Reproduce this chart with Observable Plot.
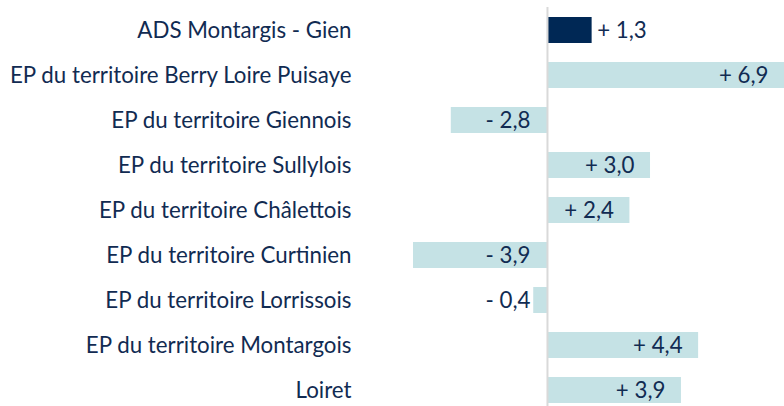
<!DOCTYPE html>
<html><head><meta charset="utf-8">
<script src="https://cdn.jsdelivr.net/npm/d3@7"></script>
<script src="https://cdn.jsdelivr.net/npm/@observablehq/plot@0.6"></script>
<style>body{margin:0;background:#fff}</style>
</head><body><div id="chart"></div>
<script>
const categories = [
  "ADS Montargis - Gien",
  "EP du territoire Berry Loire Puisaye",
  "EP du territoire Giennois",
  "EP du territoire Sullylois",
  "EP du territoire Châlettois",
  "EP du territoire Curtinien",
  "EP du territoire Lorrissois",
  "EP du territoire Montargois",
  "Loiret"
];
const values = [1.3, 6.9, -2.8, 3.0, 2.4, -3.9, -0.4, 4.4, 3.9];
const labels = ["+ 1,3", "+ 6,9", "- 2,8", "+ 3,0", "+ 2,4", "- 3,9", "- 0,4", "+ 4,4", "+ 3,9"];

const data = categories.map((c, i) => ({cat: c, v: values[i], label: labels[i], highlight: i === 0}));
const navy = "#002855";
const light = "#c5e2e5";
const textColor = "#112b52";
const font = "Lato, 'Open Sans', sans-serif";
const fs = 22.3;

const chart = Plot.plot({
  width: 784,
  height: 406,
  marginLeft: 413,
  marginRight: 0,
  marginTop: 7,
  marginBottom: 0,
  style: {fontFamily: font, fontSize: fs + "px", color: textColor, background: "#fff"},
  x: {domain: [-3.9, 6.9], axis: null},
  y: {domain: categories, range: [-1.9, 422], padding: 0.42, label: null},
  marks: [
    Plot.barX(data, {x: "v", y: "cat", fill: d => d.highlight ? navy : light}),
    Plot.ruleX([0], {stroke: "#d9d9d9", strokeWidth: 2}),
    Plot.axisY({tickSize: 0, tickPadding: 62, fontSize: fs, label: null, fill: textColor}),
    Plot.text(data.filter(d => d.highlight), {x: "v", y: "cat", text: "label", textAnchor: "start", dx: 5, fill: textColor, fontSize: fs}),
    Plot.text(data.filter(d => !d.highlight && d.v > 0), {x: "v", y: "cat", text: "label", textAnchor: "end", dx: -16, fill: textColor, fontSize: fs}),
    Plot.text(data.filter(d => d.v < 0), {x: () => 0, y: "cat", text: "label", textAnchor: "end", dx: -17, fill: textColor, fontSize: fs})
  ]
});
document.getElementById("chart").appendChild(chart);
</script>
</body></html>
